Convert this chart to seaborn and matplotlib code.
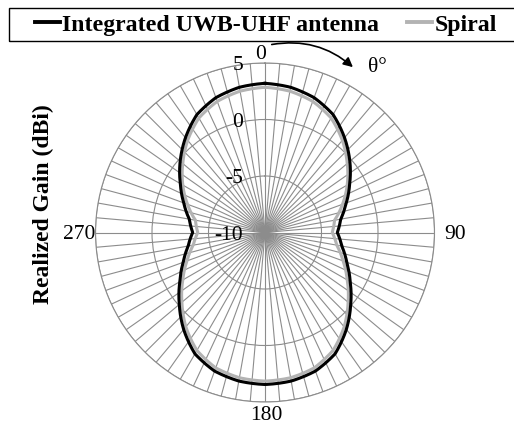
import numpy as np
import pandas as pd
import matplotlib
matplotlib.use('Agg')
import matplotlib.pyplot as plt
import seaborn as sns
from matplotlib.patches import Rectangle

plt.rcParams['font.family'] = ['Liberation Serif', 'DejaVu Serif']

# realized gain (dBi) vs theta, every 10 deg from 0 to 360
theta_deg = list(range(0, 361, 10))
integrated_gain = [3.2, 3.05, 2.7, 2.05, 0.95, -0.2, -1.35, -2.35, -3.2, -3.6,
                   -3.1, -2.3, -1.3, -0.1, 1.2, 2.4, 3.05, 3.35, 3.45,
                   3.35, 3.05, 2.4, 1.2, -0.1, -1.3, -2.3, -3.1, -3.6,
                   -3.2, -2.35, -1.35, -0.2, 0.95, 2.05, 2.7, 3.05, 3.2]
spiral_gain = [2.85, 2.7, 2.35, 1.7, 0.65, -0.5, -1.6, -2.7, -3.75, -4.05,
               -3.55, -2.65, -1.6, -0.4, 0.9, 2.05, 2.75, 3.05, 3.15,
               3.05, 2.75, 2.05, 0.9, -0.4, -1.6, -2.65, -3.55, -4.05,
               -3.75, -2.7, -1.6, -0.5, 0.65, 1.7, 2.35, 2.7, 2.85]
r_ticks = [5, 0, -5, -10]
angle_ticks = [0, 90, 180, 270]

integrated = pd.DataFrame({'theta': np.deg2rad(theta_deg), 'gain': integrated_gain})
spiral = pd.DataFrame({'theta': np.deg2rad(theta_deg), 'gain': spiral_gain})

fig = plt.figure(figsize=(5.14, 4.25), dpi=100)
ax = fig.add_axes([94.5/514, 23/425, 341/514, 339/425], projection='polar')
ax.set_theta_zero_location('N')
ax.set_theta_direction(-1)

sns.lineplot(x='theta', y='gain', data=spiral, estimator=None, sort=False,
             color='#b3b3b3', lw=2.2, label='Spiral', ax=ax)
sns.lineplot(x='theta', y='gain', data=integrated, estimator=None, sort=False,
             color='black', lw=2.2, label='Integrated UWB-UHF antenna', ax=ax)
# draw the segments as arcs in polar space instead of straight chords
for line in ax.lines:
    line.get_path()._interpolation_steps = 40

ax.set_ylim(-10, 5)
ax.set_xlabel('')
ax.set_ylabel('')

# spokes every 5 deg
ax.set_thetagrids(np.arange(0, 360, 5), [])
ax.set_rgrids([-5, 0, 5], ['', '', ''])
ax.grid(True, color='#8c8c8c', lw=0.8)
ax.spines['polar'].set_color('#8c8c8c')
ax.spines['polar'].set_linewidth(0.8)

for r in r_ticks:
    ax.annotate(str(r), xy=(0, r), xytext=(-22, -2.5), textcoords='offset pixels',
                ha='right', va='center', fontsize=15.5)

# angle labels
offs = {0: (-4, 8.5, 'center'), 90: (10, -2, 'left'), 180: (1, -13.5, 'center'), 270: (0, -1.5, 'right')}
for a in angle_ticks:
    dx, dy, ha = offs[a]
    ax.annotate(str(a), xy=(np.deg2rad(a), 5), xytext=(dx, dy), textcoords='offset pixels',
                ha=ha, va='center', fontsize=15.5, annotation_clip=False)

# legend in a box along the top
h, l = ax.get_legend_handles_labels()
ax.get_legend().remove()
fig.patches.append(Rectangle((9/514, 1-41/425), 520/514, 33/425, transform=fig.transFigure,
                             fill=False, edgecolor='black', lw=1))
leg = fig.legend(h[::-1], l[::-1], loc='center left', bbox_to_anchor=(35/514, 1-25/425),
                 ncol=2, frameon=False, borderpad=0, borderaxespad=0,
                 handlelength=1.05, handletextpad=0.1, columnspacing=1.15,
                 prop={'size': 17.2, 'weight': 'bold'})
for line in leg.get_lines():
    line.set_linewidth(2.8)

fig.text(43/514, 1-204/425, 'Realized Gain (dBi)', rotation=90, ha='center', va='center',
         fontsize=17, fontweight='bold')

# direction arrow
ax.annotate('', xy=(355/514, 1-69/425), xytext=(269/514, 1-45/425),
            xycoords='figure fraction', textcoords='figure fraction',
            arrowprops=dict(arrowstyle='-|>', connectionstyle='arc3,rad=-0.25',
                            color='black', lw=1.2, mutation_scale=14))
fig.text(377/514, 1-68/425, 'θ°', ha='center', va='center', fontsize=15.5)

plt.savefig('out.png', dpi=100)
